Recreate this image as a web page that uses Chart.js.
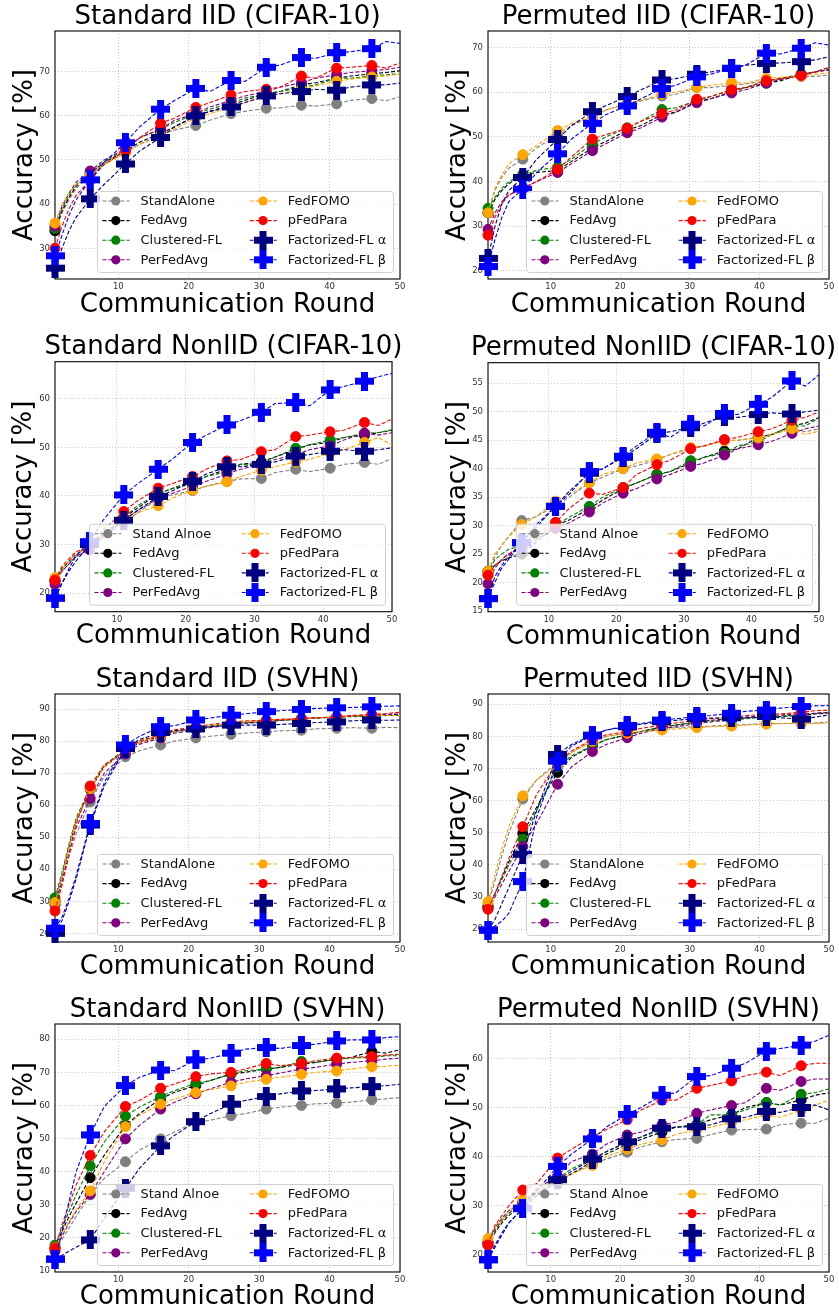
<!DOCTYPE html>
<html><head><meta charset="utf-8">
<script src="https://cdn.jsdelivr.net/npm/chart.js@4.4.0/dist/chart.umd.min.js"></script>
<style>
html,body{margin:0;padding:0;background:#fff;}
#wrap{position:relative;width:839px;height:1315px;overflow:hidden;background:#fff;}
#wrap canvas{position:absolute;}
</style></head><body><div id="wrap"></div>
<script>
// ---------------- DATA ----------------
const rounds = [1,2,3,4,6,8,11,13,16,18,21,23,26,28,31,33,36,38,41,43,46,48,50];
const markerRounds = [1,6,11,16,21,26,31,36,41,46];
const xTicks = [10,20,30,40,50];
const methodNames = ['StandAlone','FedAvg','Clustered-FL','PerFedAvg','FedFOMO','pFedPara','Factorized-FL α','Factorized-FL β'];
const methodNamesAlt = ['Stand Alnoe','FedAvg','Clustered-FL','PerFedAvg','FedFOMO','pFedPara','Factorized-FL α','Factorized-FL β'];
const methodColors = ['#808080','#000000','#008000','#800080','#FFA500','#FF0000','#000080','#0000FF'];

// series order: StandAlone, FedAvg, Clustered-FL, PerFedAvg, FedFOMO, pFedPara, Factorized-FL α, Factorized-FL β
const stdIidCifar = [
  [34,38,41,43.5,46.8,49,51.8,53.5,55.8,56.8,57.8,59,60.5,61,61.7,61.8,62.4,62.2,62.7,63.5,63.9,63.4,64.3],
  [34,38.5,41.5,44,47,49.5,52,54,56,57.5,60,61,62.5,63.5,65,65.5,67,67.5,68.5,69,69.5,69.8,70.2],
  [34.5,39,42,44.5,47,49.5,52.5,55,57,58.5,60.5,61.5,63,64,65,65.5,66.5,67,68.5,68.5,69,69.3,69.5],
  [35,39.5,42.5,45,47.5,50,52.5,55,57,59,60.5,62,63.5,64.5,65.5,66.5,67.5,68.5,69.3,69.8,70.2,70.5,71],
  [35.7,40,42.5,44.5,46.5,49,51.5,53.5,55.5,57,59.5,60.5,62,63,64.5,65,66,66.8,67.8,68.3,68.8,69,69.5],
  [30,35,39,42,45.5,49,52.1,55,58.3,59.5,61.9,63,64.7,65.5,66,66.5,69,68.5,70.8,71,71.4,70.8,72],
  [25.5,30,34,37,41.2,44.5,49.1,52,55.1,57.5,60,61,62,63,64.5,65,65.5,66,65.8,66.5,67,67,67.4],
  [28.3,33,37.5,41,45.5,49.5,53.9,57.5,61.5,63.5,66.2,65.5,68,67.8,71,71.5,73.2,73,74.3,74.5,75.2,76.8,76.4]
];
const permIidCifar = [
  [33,38,41,43,45,47.5,50.5,52.5,54.5,56,57.5,58,59.1,59.5,61,61,61.5,61.8,62.5,63,63.5,63.5,63.8],
  [33,36,38,39.5,41.5,42,42.5,44.5,47.5,49,51.5,52.5,55,55.5,58,58.5,60.1,61,62,62.5,64,64.5,65],
  [34,36.5,38.5,40,41.5,42.5,43.2,45,48.4,50,52,53.5,56.1,56.5,58,59,60.5,61,62.5,63,64,64.5,65.5],
  [29.3,33,35.5,37,38.5,40,42,44,46.9,48.5,50.9,52,54.4,55.5,57.6,58.5,59.8,60.5,62,62.8,63.8,64.5,65],
  [33,38.5,41.5,44,46,48,51.4,53,54.5,56,57.3,58.2,59.5,60,61,61.5,62.1,62,63.1,63.3,63.6,64,64.3],
  [28,32,35,37,38.5,40,42.7,45.5,49.5,50.5,51.9,53.5,55.2,56,58.4,59,60.5,61,62.5,63,63.7,64.5,65.5],
  [22.8,30,35,38,40.9,45,49.4,52.5,55.6,57,59,60.5,62.7,63,64,64.5,65.3,66,66.4,66.5,66.8,67.2,67.9],
  [21,27,32,35.5,38.3,42,46.2,49.5,53,55,56.9,58.5,60.8,61.5,63.4,64,65.3,66,68.7,68.5,69.8,71,70.5]
];
const stdNonIidCifar = [
  [22.5,24.5,26,27.5,29,31.5,34.5,36.5,39.5,40.2,41.1,42,43,43.5,43.6,44.8,45.5,45,45.7,46.5,46.9,46.5,47.7],
  [22.5,25,26.5,28,29.5,32,35.5,37.5,40.5,41.5,43,44,45.5,46.5,47,48,49.5,50.5,51,52,52.5,53,53.5],
  [22.5,25,26.5,28,29.5,32,35.5,38,40.5,41.5,42.5,44,45,46.5,46.5,48,49.8,50.5,51.5,52,52.9,53,53.6],
  [21.8,24.5,26,27.5,29,31.5,35,37,39.5,40.5,42,43,44.5,45.5,46.5,47.5,48.5,49.5,50.3,51.5,52.9,52.5,53],
  [23.2,25,26.5,28,29.5,32,35,36.5,38,39.5,41.2,42,42.9,44,45.3,46,47,47.5,48.8,49.5,51,52,50.5],
  [22.7,25.5,27,28.5,29.5,33,36.8,39,41.6,42.5,44,45.5,47.2,47.5,49.1,49.5,52.2,52.5,53.2,53.5,55.1,54.5,55.8],
  [19,22,24.5,26.5,30,32,35,37,39.9,41,43,44.5,46,46,46.5,47,48.2,48.5,49.2,49.5,49.2,49.5,49.9],
  [19,22,25,27.5,30.6,35,40.2,42.5,45.5,47.5,51,52.5,54.6,55.5,57.2,59,59.2,58.5,61.8,62.5,63.6,64.5,65.2]
];
const permNonIidCifar = [
  [22,24.5,26.5,28,30.9,31.5,33.5,35,37.5,38.5,40,40.5,41.5,42.5,43.5,44,45,45,45.5,46,47,46.5,47],
  [22,23,23.8,24.3,25,27,30,31,33,34.5,36.5,37.5,39,39.5,41,42,43.1,43.5,45.5,46,47.5,48,49],
  [21.5,24,25,25.8,26.5,28,30,31.5,33.4,35,36.7,37.5,38.9,39.5,41.4,42,42.7,44,44.7,46,47.5,47.5,48.9],
  [19.8,22.5,24,25,26,27.5,29.5,30.5,32.4,34,35.7,36.5,38.2,39,40.4,41,42.4,43.5,44.2,44.8,46.2,47,47.5],
  [22,25,26.5,28,30.2,31.5,34.3,35.5,37.5,39,40,41,41.7,42.5,43.7,44,44.9,45,45.4,46,47,46,46.6],
  [21.3,23,24,25,26.5,28.5,30.6,33,35.7,35.5,36.7,39,40.7,41.5,43.5,44,45.1,45.5,46.5,47,48.5,49,50],
  [17.2,21,23,24.5,27,30,33.4,36,39.2,40,42,43.5,46.1,46.5,47.2,48,49.2,49,49.5,49.8,49.6,50,50.3],
  [17.2,20,22.5,24,27,29.5,33.4,35.5,39.5,40,42.2,44,46.4,45.5,47.8,47.5,49.7,49.5,51.3,52.5,55.4,54.5,56.5]
];
const stdIidSvhn = [
  [29,36,44,51,61,69,75.1,77,78.8,80,81,81.5,82.1,82.5,82.9,83.2,83.4,83.8,84,84.2,84,84.3,84.2],
  [30,38,47,55,65,72,77,79.5,81.5,83,84,84.5,85.5,85.8,86,86.5,87,87.2,87.5,87.8,88,88.2,88.3],
  [31.1,39,48,56,65.5,72.5,77.5,80,82,83,84,84.8,85.5,85.8,86,86.5,86.8,87.2,87.5,87.6,87.8,88,88],
  [29,36.5,45,53,62.1,70,76,79,81,82.5,83.5,84.2,85,85.5,86,86.5,87,87.2,87.5,87.8,88,88.3,88.5],
  [29.6,38,47,55,65.2,72,77,79.5,81.5,83,84,84.8,85.5,86,86.5,86.8,87,87.3,87.5,87.8,88,88,88],
  [27,35,45,54,66,72.5,77,80,82,83.5,84.5,85.2,86,86.3,86.5,86.8,87,87.3,87.5,88,88.3,88.6,89],
  [20,24,30,37,53.8,66,77.7,80.5,82.7,83.3,83.8,84.5,85,85,85,85.2,85.5,85.8,86,86.3,86.6,86.5,86.6],
  [21.6,25,31,38,54.3,67,78.8,81.5,84.5,84.8,86.6,87.2,88.1,88.5,89.2,89.5,89.9,90.2,90.4,90.5,90.7,90.9,91]
];
const permIidSvhn = [
  [27.5,35,43,50,60.5,66.5,72,75,78.5,80,81,81.5,82.5,82.8,83,83.2,83.5,83.7,84,84,84,84.2,84.5],
  [27,31,36,41,49.8,58,68.8,73.5,77,79,80.5,81.5,83,83.5,84.5,85,85.5,85.7,86,86.2,86.5,87,87.3],
  [27,31,35.5,40,48,57,70.6,74,77.1,79,80.5,81.5,83,83.5,84.5,84.7,85,85.5,86,86.3,86.8,87.2,87.5],
  [26.5,30,34,38,45.7,53,65.1,70.5,75.3,77.5,79.6,81,82.5,83,84,84.5,85.5,85.8,86.5,86.7,87,87.2,87.5],
  [28.5,37,45,52,61.5,66.5,71,75,78.5,80,81,81.5,82,82.3,82.7,83,83.2,83.5,83.8,84,84.1,84,84.2],
  [26.2,31,36.5,42,51.9,62,72,75.5,79,80.5,81.5,82.5,83.5,84.2,85,85.5,86,86.5,86.8,87,87.5,88,88.2],
  [19.7,23,28,33,43.3,57,74.4,77.5,80.4,82,83,83.8,84.6,85,85.6,85.7,85.8,86,86.2,85.8,85.4,86,86.7],
  [19.7,21,22.5,25,34.8,55,72.3,77,80.2,82,83.4,84,85.1,85.5,86.2,86.5,87.2,87.8,88.2,88.8,89.3,89.5,89.6]
];
const stdNonIidSvhn = [
  [16.5,19.5,23,26.5,33,38,43,46.5,49.9,52,55,55.5,56.9,57.5,58.9,59.5,60,60.5,60.7,61,61.7,62,62.4],
  [17,22,26.5,30.5,38.2,45,54,57.5,62,64,66,67.5,69.5,70,71,71.5,72.5,73,74,74.5,76.3,75.8,76.8],
  [17.8,23,28,33,41.7,49,56.8,59.5,62.7,64.5,66.7,67.5,69.5,70.5,71,71.5,73.3,73,74,74.3,74.5,75,75],
  [16,20.5,24.5,28,33.2,40,49.9,54,58.9,61,63.5,65,67,68,69,69.8,71,71.5,72.5,73,73.5,74,74.3],
  [17,21,25,28.5,34.2,43,53.6,57,60.4,62,63.9,64.8,65.9,67,67.9,68.5,69.4,70,70.4,71,71.7,71.8,72.2],
  [16.9,24,30,36,44.9,52,59.7,61.5,65.2,66.5,68.7,69.5,70,71,72.7,72,72.7,73.5,74.3,74.5,74.8,75.2,75.5],
  [13.6,14.8,16,17.2,19.4,26,35,41,47.8,51,55.1,57.5,60.4,61.5,62.7,63.5,64.4,64.5,65,65.3,65.7,66,66.4],
  [13.6,22,31,40,51.1,59.7,66,68.5,70.7,70.5,73.8,74.2,75.8,77,77.5,77.2,78.1,78.5,79.5,79.8,79.8,80.5,80.8]
];
const permNonIidSvhn = [
  [22.5,25,27,28.5,31,32.5,34.4,36.5,38.5,39.5,40.9,42,43,43.5,43.7,44.5,45.4,45.5,45.6,46.5,46.8,46.8,47.8],
  [22,24.5,26.5,28,30.5,32.5,35,36.5,39,40.5,42.5,43.5,45,46,46.5,47.5,48.5,50,51,50.5,51.5,52.5,53],
  [22.5,25,27,28.5,30.5,33,35.5,37.5,39.5,41,43,44,45.5,46,46.5,48.5,48.5,49.5,51,50.5,52.7,53,53.8],
  [22.5,25.5,27.5,29,30.5,33.5,36,39,40.5,42.5,44.4,45,46.5,47,48.8,49.5,50.4,51,53.9,53.5,55.3,55.8,55.8],
  [23.3,25.5,27,29,31.2,33,35,36.5,38.2,40,41.5,42.5,43.4,44.5,45.5,46,47,47.5,48.5,48,49.5,50.5,51.5],
  [22,26,28,30,33.2,34.5,39.7,41.5,44,45.5,47.5,49.5,51.5,51.5,53.9,54.5,55.4,56.5,57.2,56.5,58.5,59,59],
  [19,22,24.5,26.5,29.5,32,35.3,37,39.5,41,43,44,45.8,46,46.1,46.5,47.7,48,49.2,49,50,50.5,49.5],
  [19,21.5,24,26.5,29.4,33,38,40.5,43.6,46,48.6,50,52.5,53,56.3,56.5,58,59,61.5,62,62.7,63.5,64.7]
];

const panelTitles = ['Standard IID (CIFAR-10)','Permuted IID (CIFAR-10)','Standard NonIID (CIFAR-10)','Permuted NonIID (CIFAR-10)',
  'Standard IID (SVHN)','Permuted IID (SVHN)','Standard NonIID (SVHN)','Permuted NonIID (SVHN)'];
const panelSeries = [stdIidCifar, permIidCifar, stdNonIidCifar, permNonIidCifar, stdIidSvhn, permIidSvhn, stdNonIidSvhn, permNonIidSvhn];
const panelLabels = [methodNames, methodNames, methodNamesAlt, methodNamesAlt, methodNames, methodNames, methodNamesAlt, methodNamesAlt];
const panelYTicks = [[30,40,50,60,70],[20,30,40,50,60,70],[20,30,40,50,60],[15,20,25,30,35,40,45,50,55],
  [20,30,40,50,60,70,80,90],[20,30,40,50,60,70,80,90],[10,20,30,40,50,60,70,80],[20,30,40,50,60]];
const panelYMin = [23.05,18.2,16.2,14.9,17.3,16,9.7,16.5];
const panelYMax = [79.2,73.65,67.6,58.6,94.7,93.2,84.6,67];
const yLabel = 'Accuracy [%]';
const xLabel = 'Communication Round';

// ---------------- LAYOUT (page px) ----------------
const layouts = [
  {ox:0,  oy:0,   w:420,h:325,L:55, T:31,   R:400,B:279,  ty:17,   xy:305,   yx:25},
  {ox:420,oy:0,   w:419,h:325,L:488,T:31,   R:833,B:279,  ty:17,   xy:305,   yx:458},
  {ox:0,  oy:325, w:420,h:330,L:55, T:361.7,R:392,B:611.7,ty:347,  xy:636.7, yx:24},
  {ox:420,oy:325, w:419,h:330,L:488,T:362.7,R:819,B:611.7,ty:348.3,xy:637,   yx:458},
  {ox:0,  oy:655, w:420,h:330,L:55, T:694,  R:400,B:942,  ty:680,  xy:967,   yx:25},
  {ox:420,oy:655, w:419,h:330,L:488,T:694,  R:833,B:942,  ty:680,  xy:967,   yx:458},
  {ox:0,  oy:985, w:420,h:330,L:55, T:1024, R:400,B:1272, ty:1010, xy:1297,  yx:25},
  {ox:420,oy:985, w:419,h:330,L:488,T:1024, R:833,B:1272, ty:1010, xy:1297,  yx:458}
];

const FONT = '"DejaVu Sans", "Liberation Sans", sans-serif';
const BIG = 26;

function makePlus(color, size, arm) {
  const c = document.createElement('canvas');
  c.width = size; c.height = size;
  const g = c.getContext('2d');
  g.fillStyle = color;
  const a = (size - arm) / 2;
  g.fillRect(a, 0, arm, size);
  g.fillRect(0, a, size, arm);
  return c;
}
const plusNavy = makePlus('#000080', 19, 7);
const plusBlue = makePlus('#0000FF', 19, 7);
const plusImgs = {6: plusNavy, 7: plusBlue};

const framePlugin = {
  id: 'frame',
  beforeDatasetsDraw(chart) {
    const a = chart.chartArea, ctx = chart.ctx;
    ctx.save();
    ctx.strokeStyle = '#000';
    ctx.lineWidth = 1.1;
    ctx.strokeRect(a.left, a.top, a.right - a.left, a.bottom - a.top);
    ctx.restore();
  }
};

const panelTitlePlugin = {
  id: 'panelTitle',
  afterDraw(chart, args, opts) {
    const a = chart.chartArea, ctx = chart.ctx;
    ctx.save();
    ctx.font = BIG + 'px ' + FONT;
    ctx.fillStyle = '#000';
    ctx.textAlign = 'center';
    ctx.textBaseline = 'middle';
    ctx.fillText(opts.text, (a.left + a.right) / 2, opts.y);
    ctx.restore();
  }
};

const insideLegend = {
  id: 'insideLegend',
  afterDraw(chart) {
    const a = chart.chartArea, ctx = chart.ctx;
    const bw = 296, bh = 81;
    const right = a.right - 7, bottom = a.bottom - 7;
    const left = right - bw, top = bottom - bh;
    ctx.save();
    ctx.beginPath();
    if (ctx.roundRect) ctx.roundRect(left + 0.5, top + 0.5, bw, bh, 3); else ctx.rect(left + 0.5, top + 0.5, bw, bh);
    ctx.fillStyle = 'rgba(255,255,255,0.8)';
    ctx.fill();
    ctx.strokeStyle = '#d0d0d0';
    ctx.lineWidth = 1;
    ctx.stroke();
    const ds = chart.data.datasets;
    ctx.font = '13px ' + FONT;
    ctx.textBaseline = 'middle';
    ctx.textAlign = 'left';
    ds.forEach((d, i) => {
      const col = Math.floor(i / 4), row = i % 4;
      const hx = left + (col === 0 ? 5.5 : 152.7);
      const y = top + 10 + row * 19.6;
      ctx.save();
      ctx.strokeStyle = d.borderColor;
      ctx.lineWidth = 1.1;
      ctx.setLineDash([4, 2]);
      ctx.beginPath();
      ctx.moveTo(hx, y); ctx.lineTo(hx + 27, y);
      ctx.stroke();
      ctx.restore();
      const mx = hx + 13.3;
      if (plusImgs[i]) {
        ctx.drawImage(plusImgs[i], mx - 9.5, y - 9.5);
      } else {
        ctx.beginPath();
        ctx.arc(mx, y, 4.6, 0, Math.PI * 2);
        ctx.fillStyle = d.borderColor;
        ctx.fill();
      }
      ctx.fillStyle = '#111';
      ctx.fillText(d.label, hx + 38, y + 0.5);
    });
    ctx.restore();
  }
};

const wrap = document.getElementById('wrap');

panelSeries.forEach((series, p) => {
  const lay = layouts[p];
  const cv = document.createElement('canvas');
  cv.width = lay.w; cv.height = lay.h;
  cv.style.left = lay.ox + 'px'; cv.style.top = lay.oy + 'px';
  cv.style.width = lay.w + 'px'; cv.style.height = lay.h + 'px';
  wrap.appendChild(cv);

  const labels = panelLabels[p];
  const datasets = series.map((vals, i) => ({
    label: labels[i],
    data: rounds.map((r, k) => ({x: r, y: vals[k]})),
    borderColor: methodColors[i],
    backgroundColor: methodColors[i],
    borderWidth: 1.1,
    borderDash: [4, 2],
    pointStyle: plusImgs[i] ? plusImgs[i] : 'circle',
    pointRadius: (ctx) => (ctx.raw && markerRounds.includes(ctx.raw.x)) ? (plusImgs[i] ? 9 : 5) : 0,
    pointHoverRadius: 0,
    pointBackgroundColor: methodColors[i],
    pointBorderColor: methodColors[i],
    pointBorderWidth: 1,
    fill: false,
    tension: 0,
    clip: false,
    order: 7 - i
  }));

  new Chart(cv, {
    type: 'line',
    data: {datasets},
    plugins: [framePlugin, panelTitlePlugin, insideLegend],
    options: {
      responsive: false,
      maintainAspectRatio: false,
      animation: false,
      devicePixelRatio: 1,
      events: [],
      layout: {padding: {left: 0, top: lay.T - lay.oy, right: lay.ox + lay.w - lay.R, bottom: 0}},
      plugins: {
        legend: {display: false},
        tooltip: {enabled: false},
        title: {display: false},
        panelTitle: {text: panelTitles[p], y: lay.ty - lay.oy}
      },
      scales: {
        x: {
          type: 'linear',
          min: 1, max: 50,
          afterBuildTicks: (s) => { s.ticks = xTicks.map(v => ({value: v})); },
          afterFit: (s) => { s.height = lay.oy + lay.h - lay.B; },
          ticks: {color: '#333', font: {family: FONT, size: 8.5}, padding: 3, maxRotation: 0, autoSkip: false},
          grid: {color: '#b8b8b8', lineWidth: 0.8, drawTicks: false, borderDash: [1, 2]},
          border: {display: false, dash: [1, 2]},
          title: {
            display: true, text: xLabel, color: '#000',
            font: {family: FONT, size: BIG, weight: 'normal', lineHeight: 1},
            padding: {top: 0, bottom: lay.oy + lay.h - lay.xy - BIG / 2}
          }
        },
        y: {
          type: 'linear',
          min: panelYMin[p], max: panelYMax[p],
          afterBuildTicks: (s) => { s.ticks = panelYTicks[p].map(v => ({value: v})); },
          afterFit: (s) => { s.width = lay.L - lay.ox; },
          ticks: {color: '#333', font: {family: FONT, size: 8.5}, padding: 5, autoSkip: false},
          grid: {color: '#b8b8b8', lineWidth: 0.8, drawTicks: false, borderDash: [1, 2]},
          border: {display: false, dash: [1, 2]},
          title: {
            display: true, text: yLabel, color: '#000',
            font: {family: FONT, size: BIG, weight: 'normal', lineHeight: 1},
            padding: {top: lay.yx - lay.ox - BIG / 2, bottom: 0}
          }
        }
      }
    }
  });
});
</script>
</body></html>
